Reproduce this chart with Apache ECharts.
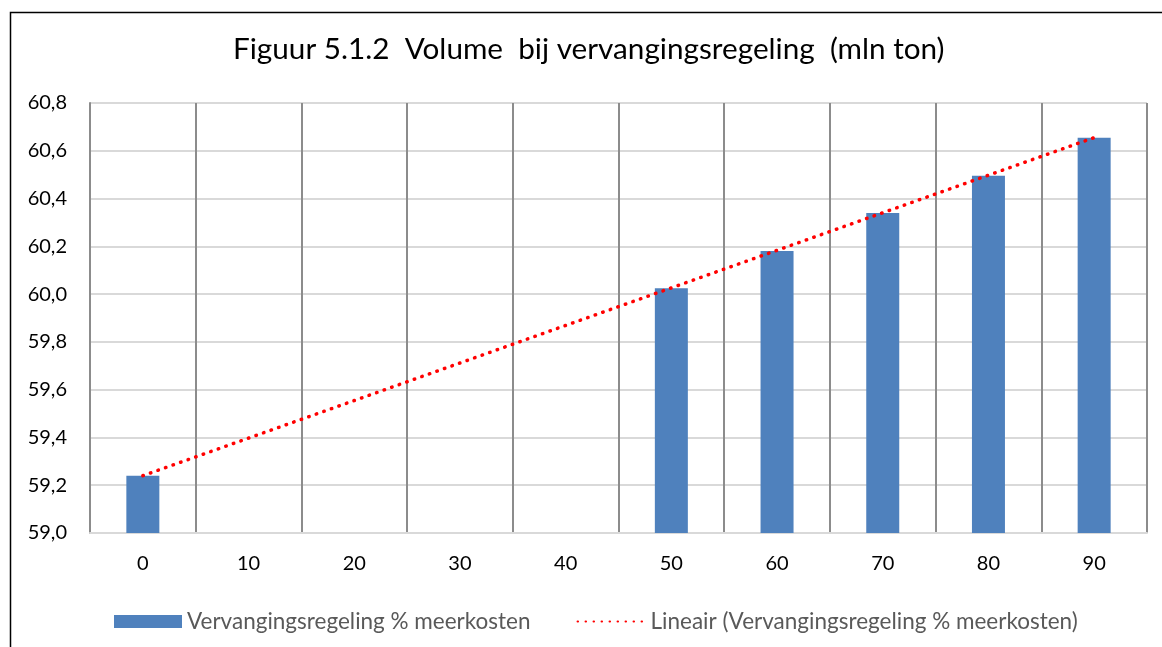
<!DOCTYPE html>
<html>
<head>
<meta charset="utf-8">
<script src="https://cdn.jsdelivr.net/npm/echarts@6/dist/echarts.min.js"></script>
<style>
html,body{margin:0;padding:0;background:#fff;}
#chart{width:1162px;height:647px;}
</style>
</head>
<body>
<div id="chart"></div>
<script>
const titleText = 'Figuur 5.1.2  Volume  bij vervangingsregeling  (mln ton)';
const categories = ['0','10','20','30','40','50','60','70','80','90'];
const volumeValues = [59.24, null, null, null, null, 60.025, 60.18, 60.34, 60.495, 60.655];
const trendCategories = ['0', '90'];
const trendValues = [59.24, 60.655];
const yTicks = { min: 59.0, max: 60.8, interval: 0.2 };
const barName = 'Vervangingsregeling % meerkosten';
const trendName = 'Lineair (Vervangingsregeling % meerkosten)';

const FONT = 'Lato';
const chart = echarts.init(document.getElementById('chart'));
chart.setOption({
  animation: false,
  textStyle: { fontFamily: FONT },
  title: {
    text: titleText, left: 233, top: 34, padding: 0,
    textStyle: { fontFamily: FONT, fontSize: 29.7, fontWeight: 'normal', color: '#000' }
  },
  graphic: [{
    type: 'rect', left: 8, top: 10, silent: true,
    shape: { x: 0, y: 0, width: 1400, height: 900 },
    style: { fill: 'none', stroke: '#000', lineWidth: 1.5 }
  }],
  grid: { left: 90, top: 103, right: 15, bottom: 114, containLabel: false },
  legend: {
    left: 114, top: 610, padding: 0, itemGap: 46, itemWidth: 68, itemHeight: 13,
    textStyle: { fontFamily: FONT, fontSize: 22.5, color: '#595959' },
    data: [
      { name: barName, icon: 'rect', itemStyle: { borderWidth: 0 } },
      { name: trendName, itemStyle: { opacity: 0 } }
    ]
  },
  xAxis: {
    type: 'category', data: categories, boundaryGap: true,
    axisLine: { show: true, lineStyle: { color: '#d9d9d9', width: 2 } },
    axisTick: { show: false },
    axisLabel: { color: '#000', fontSize: 20, margin: 21, fontFamily: FONT },
    splitLine: { show: true, lineStyle: { color: '#8c8c8c', width: 2 } }
  },
  yAxis: {
    type: 'value', min: yTicks.min, max: yTicks.max, interval: yTicks.interval,
    axisLine: { show: true, lineStyle: { color: '#8c8c8c', width: 2 } },
    axisTick: { show: false },
    axisLabel: {
      color: '#000', fontSize: 20, margin: 23, fontFamily: FONT,
      formatter: v => v.toFixed(1).replace('.', ',')
    },
    splitLine: { show: true, lineStyle: { color: '#d9d9d9', width: 2 } }
  },
  series: [
    {
      name: barName, type: 'bar', data: volumeValues, barWidth: 33,
      itemStyle: { color: '#4f81bd' },
      z: 2
    },
    {
      name: trendName, type: 'line',
      data: trendCategories.map((c, i) => [c, trendValues[i]]),
      symbol: 'none', z: 3,
      lineStyle: { color: '#ff0000', width: 3.5, type: [0.5, 7.5], cap: 'round' },
      itemStyle: { color: '#ff0000' }
    }
  ]
});
</script>
</body>
</html>
